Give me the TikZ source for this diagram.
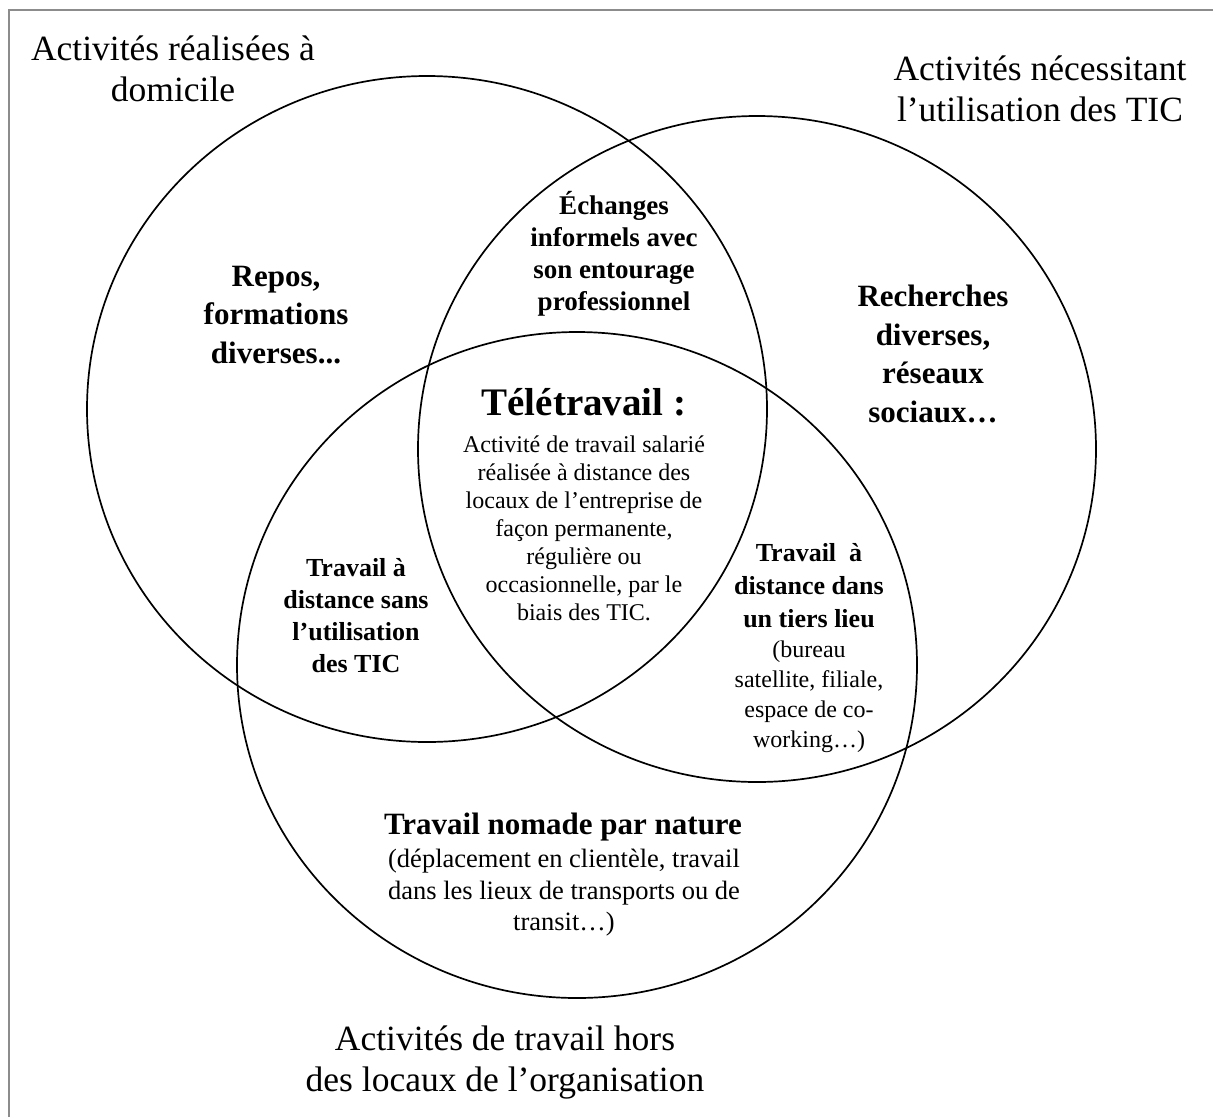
\documentclass[tikz,border=0pt]{standalone}
\usepackage{fontspec}
\setmainfont{Liberation Serif}
\begin{document}
\begin{tikzpicture}[x=1pt,y=-1pt,
  venn/.style={line width=1.7pt, draw=black},
  frameline/.style={line width=2pt, draw=black!45},
  title/.style={align=center, inner sep=0pt, font=\fontsize{35.5}{41}\selectfont},
  lblbig/.style={align=center, inner sep=0pt, font=\fontsize{31}{38.5}\selectfont\bfseries},
  lblmid/.style={align=center, inner sep=0pt, font=\fontsize{27}{32}\selectfont\bfseries},
  lblsmall/.style={align=center, inner sep=0pt, font=\fontsize{26}{32}\selectfont\bfseries},
  bodytext/.style={align=center, inner sep=0pt, font=\fontsize{24}{28}\selectfont}]
\useasboundingbox (0,0) rectangle (1213,1117);
\draw[frameline] (9,1117) -- (9,10) -- (1213,10);
% circles
\draw[venn] (427,409) ellipse [x radius=340pt, y radius=333pt];
\draw[venn] (757,449) ellipse [x radius=339pt, y radius=333pt];
\draw[venn] (577,665) ellipse [x radius=340pt, y radius=333pt];
% titles
\node[title] (tdom) at (173,69) {Activités réalisées à\\domicile};
\node[title] (ttic) at (1040,89) {Activités nécessitant\\l’utilisation des TIC};
\node[title] (ttrav) at (505,1062) {Activités de travail hors\\des locaux de l’organisation};
% region labels
\node[lblbig] (repos) at (276,315) {Repos,\\formations\\diverses...};
\node[lblbig] (rech) at (933,354) {Recherches\\diverses,\\réseaux\\sociaux…};
\node[lblmid] (ech) at (614,254) {Échanges\\informels avec\\son entourage\\professionnel};
\node[lblsmall] (sans) at (356,616) {Travail à\\distance sans\\l’utilisation\\des TIC};
\node[anchor=base, inner sep=0pt, font=\fontsize{39}{44}\selectfont\bfseries] (tele) at (584,415) {Télétravail :};
\node[bodytext] (teledef) at (584,528) {Activité de travail salarié\\réalisée à distance des\\locaux de l’entreprise de\\façon permanente,\\régulière ou\\occasionnelle, par le\\biais des TIC.};
\node[lblsmall, font=\fontsize{26}{33}\selectfont\bfseries] (tiers) at (809,586) {Travail\ \ à\\distance dans\\un tiers lieu};
\node[bodytext, font=\fontsize{24}{30}\selectfont] (tiersdef) at (809,697) {(bureau\\satellite, filiale,\\espace de co-\\working…)};
\node[anchor=base, inner sep=0pt, font=\fontsize{31}{36}\selectfont\bfseries] (nomade) at (563,834) {Travail nomade par nature};
\node[bodytext, font=\fontsize{26.5}{31.5}\selectfont] (nomadedef) at (564,893) {(déplacement en clientèle, travail\\dans les lieux de transports ou de\\transit…)};
\end{tikzpicture}
\end{document}
